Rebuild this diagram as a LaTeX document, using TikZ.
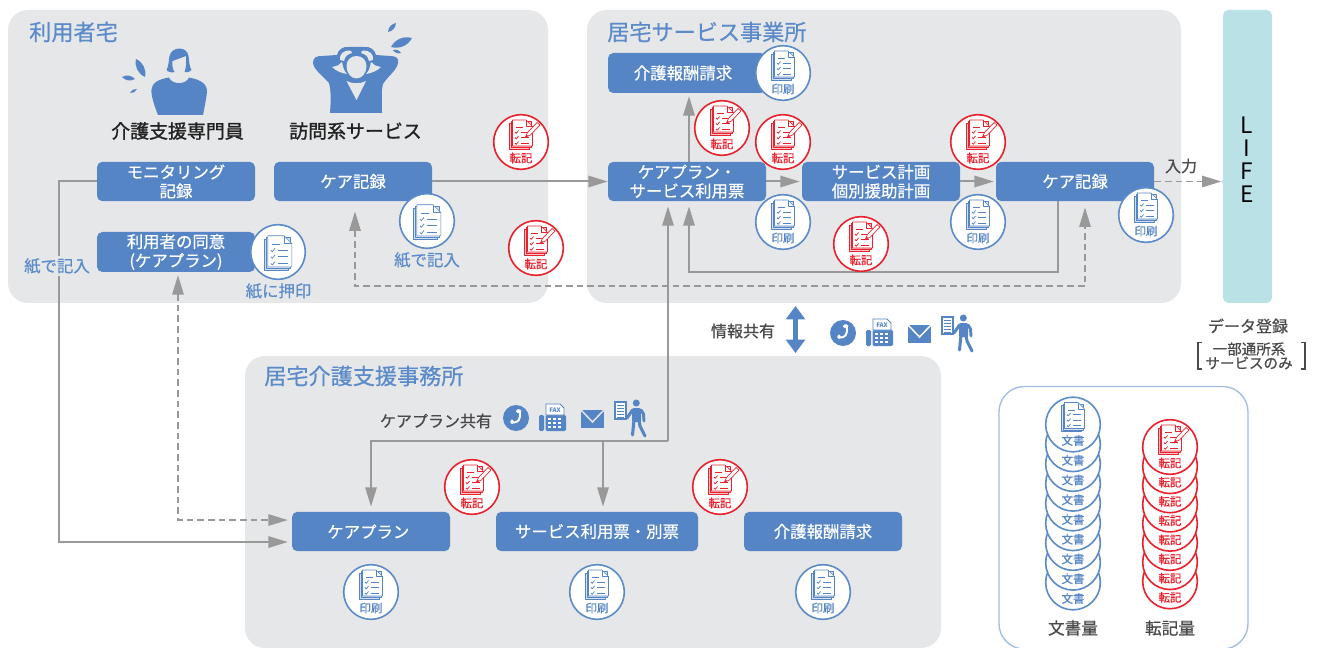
\documentclass[tikz,border=0pt]{standalone}
\usepackage{fontspec}
\setmainfont{Noto Sans CJK JP}
\newfontfamily\medfont[FakeBold=0.6]{Noto Sans CJK JP}
\newfontfamily\strongfont[FakeBold=1.2]{Noto Sans CJK JP}
\usetikzlibrary{arrows.meta,calc}
\definecolor{panel}{HTML}{E6E7E9}
\definecolor{lifec}{HTML}{BAE1E6}
\definecolor{bluec}{HTML}{5585C5}
\definecolor{titlec}{HTML}{5B8BC8}
\definecolor{redc}{HTML}{E9212D}
\definecolor{linec}{HTML}{999999}
\definecolor{darkt}{HTML}{4A4A4A}
\definecolor{blackt}{HTML}{222222}
\definecolor{legendc}{HTML}{A3BCE3}
\tikzset{
 x=0.75pt,y=-0.75pt,
 panelbox/.style={fill=panel,rounded corners=15pt},
 bx/.style={fill=bluec,rounded corners=4pt,text=white,minimum width=118.5pt,minimum height=29.5pt,inner sep=0pt,align=center,font=\medfont\fontsize{12.3}{14.2}\selectfont},
 circ/.style={circle,fill=white,line width=1.2pt,minimum size=41pt,inner sep=0pt},
 lbl/.style={inner sep=0pt,font=\medfont\fontsize{8.6}{9}\selectfont},
 titlet/.style={text=titlec,inner sep=0pt,anchor=west,font=\medfont\fontsize{16.6}{18}\selectfont},
 smallb/.style={text=titlec,inner sep=0pt,font=\medfont\fontsize{12.3}{14}\selectfont},
 greyt/.style={text=darkt,inner sep=0pt,font=\medfont\fontsize{12}{14}\selectfont},
 persont/.style={text=blackt,inner sep=0pt,font=\strongfont\fontsize{14.2}{15}\selectfont},
 conn/.style={draw=linec,line width=1.5pt,-{Triangle[length=14.5pt,width=8.5pt]}},
 connd/.style={draw=linec,line width=1.25pt,dash pattern=on 5pt off 3pt,-{Triangle[length=14.5pt,width=8.5pt]}},
 tipb/.style={{Triangle[length=14.5pt,width=8.5pt]}-{Triangle[length=14.5pt,width=8.5pt]}},
 pics/docg/.style={code={
  \begin{scope}[line width=.45pt,draw=#1,line join=round]
  \filldraw[fill=#1!25] (-11.5,-19)--(8.5,-19)--(8.5,7)--(-11.5,7)--cycle;
  \filldraw[fill=#1!25] (-10,-20.5)--(10,-20.5)--(10,5.5)--(-10,5.5)--cycle;
  \filldraw[fill=white] (-8.5,-22)--(5,-22)--(11.5,-15.5)--(11.5,4)--(-8.5,4)--cycle;
  \draw (5,-22)--(5,-15.5)--(11.5,-15.5);
  \foreach \yy in {-8,-2.5,3}{\draw[line width=.55pt] (-6,\yy-2)--(-4.7,\yy-.7)--(-2.5,\yy-3.5);}
  \draw[line width=.6pt] (-5,-14.5)--(1.5,-14.5) (0,-10)--(8,-10) (0,-4.5)--(8,-4.5) (0,1)--(8,1);
  \end{scope}}},
 pics/pencilg/.style={code={
  \filldraw[draw=#1,fill=white,line width=.5pt] (4.5,-5)--(6.5,-9.5)--(16,-19.5)--(19,-17)--(9.5,-7)--cycle;
  \fill[#1] (4.5,-5)--(5.5,-7.3)--(7.2,-5.9)--cycle;}},
 pics/commicons/.style={code={
  \fill[bluec] (0,0) circle (13);
  \draw[white,line width=1.5pt,line cap=round] (3.7,-6.5) .. controls (5,2) and (2,5) .. (-4,4.5);
  \draw[white,line width=2.6pt,line cap=round] (1.5,-6.8)--(3.7,-7) (-4,3)--(-4,4.5);
  \fill[bluec,rounded corners=1pt] (23,-3) rectangle (28,13);
  \fill[bluec,rounded corners=1pt] (29.5,-3) rectangle (50,13);
  \filldraw[draw=bluec,fill=white,line width=.7pt] (30,-3)--(30,-14)--(44,-14)--(48,-10)--(48,-3)--cycle;
  \node[text=bluec,inner sep=0pt,font=\fontsize{4.6}{5}\selectfont\bfseries] at (39,-8) {FAX};
  \foreach \ii in {33.5,38.5,43.5}\foreach \jj in {1,5,9}{\fill[white] (\ii-1.3,\jj-1.2) rectangle (\ii+1.3,\jj+1.2);}
  \fill[bluec] (65,-8) rectangle (88,10);
  \draw[#1,line width=1.1pt] (65,-8)--(76.5,4)--(88,-8);
  \filldraw[draw=bluec,fill=white,line width=.8pt] (99,-16) rectangle (110,1);
  \draw[bluec,line width=.6pt] (101,-12.5) -- (108,-12.5) (101,-9.5)--(108,-9.5) (101,-6.5)--(108,-6.5) (101,-3.5)--(108,-3.5) (101,-.5)--(108,-.5);
  \fill[bluec] (120.3,-15) circle (3.5);
  \fill[bluec,rounded corners=1.5pt] (116,-10) rectangle (125,4);
  \draw[bluec,line width=2.2pt,line cap=round,line join=round] (116.5,-8)--(111,0);
  \draw[bluec,line width=2.2pt,line cap=round,line join=round] (125,-8)--(127.5,-4)--(128,3);
  \draw[bluec,line width=2.3pt,line cap=round,line join=round] (118,2)--(116.5,17);
  \draw[bluec,line width=2.3pt,line cap=round,line join=round] (123,2)--(124,8)--(129,18);
 }}
}
\newcommand\bnode[4]{%
 \node[circ,draw=titlec] (#1) at (#2,#3) {};
 \pic at (#1) {docg=bluec};
 \node[lbl,text=bluec] (#1-l) at ([yshift=-12pt]#1.center) {#4};}
\newcommand\pnode[3]{%
 \node[circ,draw=titlec] (#1) at (#2,#3) {};
 \pic[scale=1.2] at ([yshift=-7.6pt]#1.center) {docg=bluec};}
\newcommand\rnode[3]{%
 \node[circ,draw=redc] (#1) at (#2,#3) {};
 \pic at (#1) {docg=redc};
 \pic at (#1) {pencilg=redc};
 \node[lbl,text=redc] (#1-l) at ([yshift=-12pt]#1.center) {転記};}
\newcommand\drp[2]{\fill[bluec] (#1) to[bend left=38] (#2) to[bend left=38] (#1);}
\begin{document}
\begin{tikzpicture}
\useasboundingbox (0,0) rectangle (1319,648);
\fill[white] (0,0) rectangle (1319,648);
% panels
\fill[panelbox] (8,10) rectangle (548,303);
\fill[panelbox] (587,10) rectangle (1181,303);
\fill[panelbox] (245,356) rectangle (941,648);
\fill[lifec,rounded corners=4pt] (1223,10) rectangle (1272,303);
\draw[legendc,line width=1pt,rounded corners=19pt] (999,386.5) rectangle (1248,649);
% titles
\node[titlet] (t1) at (29,32) {利用者宅};
\node[titlet] (t2) at (607,32) {居宅サービス事業所};
\node[titlet] (t3) at (264,376) {居宅介護支援事務所};
% people
\begin{scope}
 \fill[bluec] (166.5,70) .. controls (169,66) and (168.5,60) .. (169.5,56) .. controls (172,46) and (187,46) .. (188.5,56) .. controls (189.5,62) and (189,66) .. (191.5,70) .. controls (190,72) and (187,73) .. (184.5,72) .. controls (186,69) and (186.5,62) .. (186,56) -- (172.5,61) .. controls (172,65) and (172.5,69) .. (174.5,72) .. controls (172,73) and (168,72) .. (166.5,70) -- cycle;
 \fill[bluec] (158,115) .. controls (154,105) and (151,95) .. (151.5,90) .. controls (152,82) and (160,79) .. (169,77.5) .. controls (172,85) and (186,85) .. (189,77.5) .. controls (197,79) and (206,82) .. (207,90) .. controls (207,95) and (205,105) .. (203,115) -- cycle;
 \drp{136,59}{145,77}
 \drp{122,77}{135,79}
 \drp{130,93}{137,89}
 % second person
 \fill[bluec] (330,113) .. controls (331,100) and (331,90) .. (329,83) .. controls (322,75) and (314,70) .. (313,63) .. controls (313,57) and (317,56) .. (322,56) -- (337,55) .. controls (338,50) and (343,46) .. (349,47) -- (364,47) .. controls (370,46) and (375,50) .. (376,55) -- (390,56) .. controls (396,56) and (399,58) .. (398,63) .. controls (397,70) and (388,76) .. (383,84) .. controls (381,92) and (382,100) .. (382,113) -- cycle;
 \fill[panel] (332,67) .. controls (337,66) and (340,65) .. (342,62) .. controls (343,67) and (344,71) .. (347,74) .. controls (341,73) and (336,71) .. (332,67) -- cycle;
 \fill[panel] (381,67) .. controls (376,66) and (373,65) .. (371,62) .. controls (370,67) and (369,71) .. (366,74) .. controls (372,73) and (377,71) .. (381,67) -- cycle;
 \fill[panel] (340,60) .. controls (339,54) and (344,50) .. (350,50.5) .. controls (351,51) and (352,52) .. (352,53) .. controls (348,54) and (345,56) .. (344,61) -- cycle;
 \fill[panel] (373,60) .. controls (374,54) and (369,50) .. (363,50.5) .. controls (362,51) and (361,52) .. (361,53) .. controls (365,54) and (368,56) .. (369,61) -- cycle;
 \fill[panel] (356.5,78.5) .. controls (351,78.5) and (346.5,73) .. (346.5,66) .. controls (346.5,60) and (351,56) .. (356.5,56) .. controls (362,56) and (366.5,60) .. (366.5,66) .. controls (366.5,73) and (362,78.5) .. (356.5,78.5) -- cycle;
 \fill[panel] (346.5,81) -- (356.5,100) -- (366,81) .. controls (361,84) and (352,84) .. (346.5,81) -- cycle;
 \drp{388,32}{396,23}
 \drp{391,47}{412,38}
 \drp{393,50}{401,53}
\end{scope}
\node[persont] (p1) at (177.5,131) {介護支援専門員};
\node[persont] (p2) at (355.5,131) {訪問系サービス};
% boxes
\node[bx] (mon) at (176,181.5) {モニタリング\\記録};
\node[bx] (kr)  at (353,181.5) {ケア記録};
\node[bx,minimum height=30pt] (con) at (176,252) {利用者の同意\\(ケアプラン)};
\node[bx,minimum height=30pt] (req) at (687,73) {\hspace*{-6pt}介護報酬請求};
\node[bx] (kp)  at (687,181.5) {ケアプラン・\\サービス利用票};
\node[bx] (sv)  at (881,181.5) {サービス計画\\個別援助計画};
\node[bx] (kc)  at (1075,181.5) {ケア記録};
\node[bx] (bp)  at (371,531.5) {\hspace*{-4pt}ケアプラン};
\node[bx,minimum width=151.5pt] (bs) at (597,531.5) {サービス利用票・別票};
\node[bx] (bq)  at (823,531.5) {介護報酬請求};
\node[fill=lifec,minimum width=2pt,minimum height=2pt,inner sep=0pt] (life) at (1223,181.5) {};
% connectors
\draw[conn,shorten >=3pt] (mon.west) -- ++(-38,0) |- ([yshift=-7.9pt]bp.west);
\draw[conn] (kr.east) -- (kp.west);
\draw[conn,shorten >=2.2pt] ([xshift=1.5pt]kp.north) -- ([xshift=1.5pt]req.south);
\draw[conn,shorten >=1.5pt] (kp.east) -- (sv.west);
\draw[conn,shorten >=1.5pt] (sv.east) -- (kc.west);
\draw[conn,shorten >=3.7pt] ([xshift=-12.75pt]kc.south) -- ++(0,71) -| ([xshift=1.5pt]kp.south);
\coordinate (jo) at (668,441);
\coordinate (jm) at (603,441);
\coordinate (jd) at (1085,286);
\draw[conn,shorten >=3.7pt] (jo) -- ([xshift=-14.25pt]kp.south);
\draw[conn,shorten >=3.7pt] (jo) -| (bp.north);
\draw[conn,shorten >=3.7pt] (jm) -- ([xshift=4.5pt]bs.north);
\draw[connd,tipb,shorten <=7.5pt,shorten >=4.5pt] ([xshift=1.5pt]kr.south) |- (jd) -- ([xshift=7.5pt]kc.south);
\draw[connd,tipb,shorten <=2.2pt,shorten >=3pt] ([xshift=1.5pt]con.south) |- ([yshift=8.6pt]bp.west);
\draw[connd] (kc.east) -- (life.west);
\coordinate (ia) at (795.5,306);
\coordinate (ib) at (795.5,353);
\draw[bluec,line width=3.6pt,{Triangle[length=10pt,width=14pt]}-{Triangle[length=10pt,width=14pt]}] (ia) -- (ib);
% labels on connectors
\node[smallb,fill=panel,inner xsep=0pt,inner ysep=2pt] (l1) at (57,266) {紙で記入};
\node[smallb] (l2) at (427,260) {紙で記入};
\node[smallb] (l3) at (278.5,291) {紙に押印};
\node[greyt] (l4) at (1181,166) {入力};
\node[greyt] (l5) at (743,331) {情報共有};
\node[greyt] (l6) at (436,421) {ケアプラン共有};
% comm icons
\pic at (843,333) {commicons=white};
\pic at (516,418) {commicons=panel};
% doc circles
\pnode{b1}{427}{221}
\pnode{b2}{278}{252}
\bnode{b3}{783}{73}{印刷}
\bnode{b4}{783}{222}{印刷}
\bnode{b5}{978}{222}{印刷}
\bnode{b6}{1146}{215}{印刷}
\bnode{b7}{371}{592}{印刷}
\bnode{b8}{597}{592}{印刷}
\bnode{b9}{823}{592}{印刷}
\rnode{r1}{521}{142}
\rnode{r2}{536}{248}
\rnode{r3}{722}{128}
\rnode{r4}{783}{142}
\rnode{r5}{978}{142}
\rnode{r6}{861}{244}
\rnode{r7}{472}{487}
\rnode{r8}{720}{487}
% LIFE
\node[text=black,inner sep=0pt,font=\fontsize{17}{18}\selectfont] (lL) at (1247,125) {L};
\node[text=black,inner sep=0pt,font=\fontsize{17}{18}\selectfont] (lI) at (1247,148) {I};
\node[text=black,inner sep=0pt,font=\fontsize{17}{18}\selectfont] (lF) at (1247,171) {F};
\node[text=black,inner sep=0pt,font=\fontsize{17}{18}\selectfont] (lE) at (1247,194) {E};
% data note
\node[greyt] (d1) at (1248,326) {データ登録};
\node[text=darkt,inner sep=0pt,font=\medfont\fontsize{10.9}{11}\selectfont] (d2) at (1249,349) {一部通所系};
\node[text=darkt,inner sep=0pt,font=\medfont\fontsize{10.9}{11}\selectfont] (d3) at (1249,363) {サービスのみ};
\draw[darkt,line width=.9pt] (1202,342.5) -- (1198,342.5) -- (1198,369) -- (1202,369);
\draw[darkt,line width=.9pt] (1301,342.5) -- (1305,342.5) -- (1305,369) -- (1301,369);
% legend stacks
\foreach \i in {8,7,...,0}{
 \pgfmathsetmacro\yy{424.5+19.75*\i}
 \node[circ,draw=titlec] (s\i) at (1073,\yy) {};
 \node[lbl,text=bluec] (s\i-l) at ([yshift=-12pt]s\i.center) {文書};
}
\pic at (s0) {docg=bluec};
\foreach \i in {7,6,...,0}{
 \pgfmathsetmacro\yy{447+19.2*\i}
 \node[circ,draw=redc] (q\i) at (1170,\yy) {};
 \node[lbl,text=redc] (q\i-l) at ([yshift=-12pt]q\i.center) {転記};
}
\pic at (q0) {docg=redc};
\pic at (q0) {pencilg=redc};
\node[greyt,font=\medfont\fontsize{12.5}{14}\selectfont] (v1) at (1073,628) {文書量};
\node[greyt,font=\medfont\fontsize{12.5}{14}\selectfont] (v2) at (1170,628) {転記量};
\end{tikzpicture}
\end{document}
